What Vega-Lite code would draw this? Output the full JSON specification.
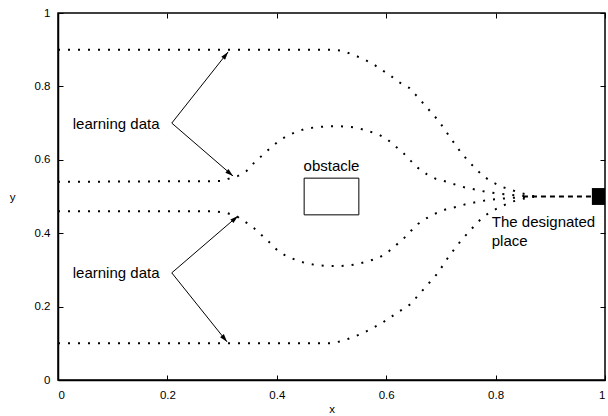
{
  "$schema": "https://vega.github.io/schema/vega-lite/v6.json",
  "width": 547,
  "height": 367,
  "autosize": "none",
  "padding": {"left": 58, "top": 13, "right": 3, "bottom": 36},
  "background": "white",
  "config": {
    "font": "Liberation Sans",
    "view": {"stroke": "black", "strokeWidth": 1.5},
    "axis": {
      "grid": false,
      "domainColor": "black",
      "domainWidth": 1.5,
      "tickColor": "black",
      "tickSize": -5,
      "tickWidth": 1,
      "labelColor": "black",
      "labelFont": "Liberation Sans",
      "labelFontSize": 11.5,
      "titleFont": "Liberation Sans",
      "titleFontSize": 11.5,
      "titleFontWeight": "normal",
      "titleColor": "black"
    }
  },
  "datasets": {
    "curves": [
      {"curve": "top", "x": 0, "y": 0.9}, {"curve": "top", "x": 0.5, "y": 0.9}, {"curve": "top", "x": 0.52, "y": 0.897}, {"curve": "top", "x": 0.54, "y": 0.886}, {"curve": "top", "x": 0.558, "y": 0.875}, {"curve": "top", "x": 0.576, "y": 0.861}, {"curve": "top", "x": 0.592, "y": 0.845}, {"curve": "top", "x": 0.609, "y": 0.828}, {"curve": "top", "x": 0.623, "y": 0.812}, {"curve": "top", "x": 0.642, "y": 0.796}, {"curve": "top", "x": 0.654, "y": 0.777}, {"curve": "top", "x": 0.667, "y": 0.755}, {"curve": "top", "x": 0.68, "y": 0.733}, {"curve": "top", "x": 0.693, "y": 0.711}, {"curve": "top", "x": 0.704, "y": 0.689}, {"curve": "top", "x": 0.715, "y": 0.665}, {"curve": "top", "x": 0.737, "y": 0.619}, {"curve": "top", "x": 0.75, "y": 0.597}, {"curve": "top", "x": 0.762, "y": 0.578}, {"curve": "top", "x": 0.777, "y": 0.556}, {"curve": "top", "x": 0.793, "y": 0.54}, {"curve": "top", "x": 0.812, "y": 0.526}, {"curve": "top", "x": 0.828, "y": 0.518}, {"curve": "top", "x": 0.845, "y": 0.51}, {"curve": "top", "x": 0.87, "y": 0.5},
      {"curve": "upper", "x": 0, "y": 0.54}, {"curve": "upper", "x": 0.3, "y": 0.542}, {"curve": "upper", "x": 0.311, "y": 0.548}, {"curve": "upper", "x": 0.329, "y": 0.556}, {"curve": "upper", "x": 0.345, "y": 0.57}, {"curve": "upper", "x": 0.358, "y": 0.591}, {"curve": "upper", "x": 0.372, "y": 0.61}, {"curve": "upper", "x": 0.388, "y": 0.632}, {"curve": "upper", "x": 0.402, "y": 0.649}, {"curve": "upper", "x": 0.418, "y": 0.665}, {"curve": "upper", "x": 0.437, "y": 0.677}, {"curve": "upper", "x": 0.453, "y": 0.685}, {"curve": "upper", "x": 0.473, "y": 0.689}, {"curve": "upper", "x": 0.491, "y": 0.691}, {"curve": "upper", "x": 0.51, "y": 0.692}, {"curve": "upper", "x": 0.53, "y": 0.69}, {"curve": "upper", "x": 0.548, "y": 0.687}, {"curve": "upper", "x": 0.567, "y": 0.678}, {"curve": "upper", "x": 0.585, "y": 0.67}, {"curve": "upper", "x": 0.601, "y": 0.657}, {"curve": "upper", "x": 0.616, "y": 0.638}, {"curve": "upper", "x": 0.631, "y": 0.619}, {"curve": "upper", "x": 0.645, "y": 0.597}, {"curve": "upper", "x": 0.658, "y": 0.578}, {"curve": "upper", "x": 0.674, "y": 0.561}, {"curve": "upper", "x": 0.691, "y": 0.548}, {"curve": "upper", "x": 0.711, "y": 0.54}, {"curve": "upper", "x": 0.729, "y": 0.531}, {"curve": "upper", "x": 0.748, "y": 0.523}, {"curve": "upper", "x": 0.766, "y": 0.518}, {"curve": "upper", "x": 0.784, "y": 0.512}, {"curve": "upper", "x": 0.81, "y": 0.507}, {"curve": "upper", "x": 0.845, "y": 0.502}, {"curve": "upper", "x": 0.87, "y": 0.5},
      {"curve": "lower", "x": 0, "y": 0.46}, {"curve": "lower", "x": 0.285, "y": 0.46}, {"curve": "lower", "x": 0.309, "y": 0.455}, {"curve": "lower", "x": 0.329, "y": 0.444}, {"curve": "lower", "x": 0.345, "y": 0.428}, {"curve": "lower", "x": 0.358, "y": 0.414}, {"curve": "lower", "x": 0.372, "y": 0.395}, {"curve": "lower", "x": 0.388, "y": 0.373}, {"curve": "lower", "x": 0.402, "y": 0.352}, {"curve": "lower", "x": 0.418, "y": 0.337}, {"curve": "lower", "x": 0.437, "y": 0.326}, {"curve": "lower", "x": 0.453, "y": 0.318}, {"curve": "lower", "x": 0.473, "y": 0.313}, {"curve": "lower", "x": 0.491, "y": 0.311}, {"curve": "lower", "x": 0.51, "y": 0.31}, {"curve": "lower", "x": 0.53, "y": 0.312}, {"curve": "lower", "x": 0.548, "y": 0.316}, {"curve": "lower", "x": 0.567, "y": 0.324}, {"curve": "lower", "x": 0.585, "y": 0.332}, {"curve": "lower", "x": 0.601, "y": 0.346}, {"curve": "lower", "x": 0.616, "y": 0.365}, {"curve": "lower", "x": 0.631, "y": 0.384}, {"curve": "lower", "x": 0.645, "y": 0.406}, {"curve": "lower", "x": 0.658, "y": 0.425}, {"curve": "lower", "x": 0.674, "y": 0.441}, {"curve": "lower", "x": 0.692, "y": 0.455}, {"curve": "lower", "x": 0.711, "y": 0.466}, {"curve": "lower", "x": 0.729, "y": 0.472}, {"curve": "lower", "x": 0.748, "y": 0.48}, {"curve": "lower", "x": 0.766, "y": 0.485}, {"curve": "lower", "x": 0.784, "y": 0.49}, {"curve": "lower", "x": 0.81, "y": 0.494}, {"curve": "lower", "x": 0.845, "y": 0.498}, {"curve": "lower", "x": 0.87, "y": 0.5},
      {"curve": "bottom", "x": 0, "y": 0.1}, {"curve": "bottom", "x": 0.5, "y": 0.1}, {"curve": "bottom", "x": 0.521, "y": 0.107}, {"curve": "bottom", "x": 0.54, "y": 0.117}, {"curve": "bottom", "x": 0.558, "y": 0.128}, {"curve": "bottom", "x": 0.576, "y": 0.142}, {"curve": "bottom", "x": 0.592, "y": 0.155}, {"curve": "bottom", "x": 0.609, "y": 0.172}, {"curve": "bottom", "x": 0.625, "y": 0.188}, {"curve": "bottom", "x": 0.642, "y": 0.204}, {"curve": "bottom", "x": 0.654, "y": 0.223}, {"curve": "bottom", "x": 0.667, "y": 0.245}, {"curve": "bottom", "x": 0.68, "y": 0.267}, {"curve": "bottom", "x": 0.693, "y": 0.289}, {"curve": "bottom", "x": 0.704, "y": 0.313}, {"curve": "bottom", "x": 0.715, "y": 0.338}, {"curve": "bottom", "x": 0.739, "y": 0.384}, {"curve": "bottom", "x": 0.751, "y": 0.403}, {"curve": "bottom", "x": 0.764, "y": 0.425}, {"curve": "bottom", "x": 0.777, "y": 0.444}, {"curve": "bottom", "x": 0.793, "y": 0.46}, {"curve": "bottom", "x": 0.812, "y": 0.474}, {"curve": "bottom", "x": 0.828, "y": 0.485}, {"curve": "bottom", "x": 0.845, "y": 0.492}, {"curve": "bottom", "x": 0.87, "y": 0.5}
    ],
    "target_path": [
      {"x": 0.85, "y": 0.5},
      {"x": 0.976, "y": 0.5}
    ],
    "target": [
      {"x": 0.976, "x2": 1.0, "y": 0.477, "y2": 0.523}
    ],
    "obstacle": [
      {"x": 0.45, "x2": 0.55, "y": 0.45, "y2": 0.55}
    ],
    "arrows": [
      {"x": 0.208, "y": 0.7, "x2": 0.311, "y2": 0.894},
      {"x": 0.208, "y": 0.7, "x2": 0.32, "y2": 0.556},
      {"x": 0.208, "y": 0.292, "x2": 0.329, "y2": 0.447},
      {"x": 0.208, "y": 0.292, "x2": 0.309, "y2": 0.104}
    ],
    "labels": [
      {"x": 0.027, "y": 0.698, "text": "learning data", "align": "left"},
      {"x": 0.027, "y": 0.292, "text": "learning data", "align": "left"},
      {"x": 0.5, "y": 0.583, "text": "obstacle", "align": "center"},
      {"x": 0.793, "y": 0.43, "text": "The designated", "align": "left"},
      {"x": 0.793, "y": 0.379, "text": "place", "align": "left"}
    ]
  },
  "resolve": {"axis": {"x": "independent", "y": "independent"}},
  "layer": [
    {
      "data": {"name": "curves"},
      "mark": {"type": "line", "color": "black", "strokeWidth": 2, "strokeDash": [2, 8], "strokeCap": "butt"},
      "encoding": {
        "x": {"field": "x", "type": "quantitative", "scale": {"domain": [0, 1], "nice": false, "zero": false},
          "axis": {"orient": "bottom", "values": [0, 0.2, 0.4, 0.6, 0.8, 1], "format": "~g", "title": "x", "labelPadding": 14, "titleY": 32, "titleBaseline": "alphabetic"}},
        "y": {"field": "y", "type": "quantitative", "scale": {"domain": [0, 1], "nice": false, "zero": false},
          "axis": {"orient": "left", "values": [0, 0.2, 0.4, 0.6, 0.8, 1], "format": "~g", "title": "y", "labelPadding": 13, "titleAngle": 0, "titleAlign": "center", "titleBaseline": "middle", "titleX": -46, "titleY": 184}},
        "detail": {"field": "curve", "type": "nominal"}
      }
    },
    {
      "data": {"name": "obstacle"},
      "mark": {"type": "rect", "fill": "white", "stroke": "black", "strokeWidth": 1},
      "encoding": {
        "x": {"field": "x", "type": "quantitative", "axis": {"orient": "top", "values": [0, 0.2, 0.4, 0.6, 0.8, 1], "labels": false, "title": null, "domain": false}},
        "x2": {"field": "x2"},
        "y": {"field": "y", "type": "quantitative", "axis": {"orient": "right", "values": [0, 0.2, 0.4, 0.6, 0.8, 1], "labels": false, "title": null, "domain": false}},
        "y2": {"field": "y2"}
      }
    },
    {
      "data": {"name": "target_path"},
      "mark": {"type": "line", "color": "black", "strokeWidth": 2, "strokeDash": [5, 4]},
      "encoding": {
        "x": {"field": "x", "type": "quantitative", "axis": null},
        "y": {"field": "y", "type": "quantitative", "axis": null}
      }
    },
    {
      "data": {"name": "target"},
      "mark": {"type": "rect", "fill": "black"},
      "encoding": {
        "x": {"field": "x", "type": "quantitative", "axis": null},
        "x2": {"field": "x2"},
        "y": {"field": "y", "type": "quantitative", "axis": null},
        "y2": {"field": "y2"}
      }
    },
    {
      "data": {"name": "arrows"},
      "mark": {"type": "rule", "color": "black", "strokeWidth": 1},
      "encoding": {
        "x": {"field": "x", "type": "quantitative", "axis": null},
        "y": {"field": "y", "type": "quantitative", "axis": null},
        "x2": {"field": "x2"},
        "y2": {"field": "y2"}
      }
    },
    {
      "data": {"values": [{"x": 0.311, "y": 0.894}]},
      "mark": {"type": "point", "shape": "M0,0L0.6,2L-0.6,2Z", "size": 64, "filled": true, "color": "black", "opacity": 1, "angle": 38},
      "encoding": {
        "x": {"field": "x", "type": "quantitative", "axis": null},
        "y": {"field": "y", "type": "quantitative", "axis": null}
      }
    },
    {
      "data": {"values": [{"x": 0.32, "y": 0.556}]},
      "mark": {"type": "point", "shape": "M0,0L0.6,2L-0.6,2Z", "size": 64, "filled": true, "color": "black", "opacity": 1, "angle": 130},
      "encoding": {
        "x": {"field": "x", "type": "quantitative", "axis": null},
        "y": {"field": "y", "type": "quantitative", "axis": null}
      }
    },
    {
      "data": {"values": [{"x": 0.329, "y": 0.447}]},
      "mark": {"type": "point", "shape": "M0,0L0.6,2L-0.6,2Z", "size": 64, "filled": true, "color": "black", "opacity": 1, "angle": 49},
      "encoding": {
        "x": {"field": "x", "type": "quantitative", "axis": null},
        "y": {"field": "y", "type": "quantitative", "axis": null}
      }
    },
    {
      "data": {"values": [{"x": 0.309, "y": 0.104}]},
      "mark": {"type": "point", "shape": "M0,0L0.6,2L-0.6,2Z", "size": 64, "filled": true, "color": "black", "opacity": 1, "angle": 141},
      "encoding": {
        "x": {"field": "x", "type": "quantitative", "axis": null},
        "y": {"field": "y", "type": "quantitative", "axis": null}
      }
    },
    {
      "data": {"name": "labels"},
      "transform": [{"filter": "datum.align == 'left'"}],
      "mark": {"type": "text", "align": "left", "baseline": "middle", "font": "Liberation Sans", "fontSize": 15, "color": "black"},
      "encoding": {
        "x": {"field": "x", "type": "quantitative", "axis": null},
        "y": {"field": "y", "type": "quantitative", "axis": null},
        "text": {"field": "text"}
      }
    },
    {
      "data": {"name": "labels"},
      "transform": [{"filter": "datum.align == 'center'"}],
      "mark": {"type": "text", "align": "center", "baseline": "middle", "font": "Liberation Sans", "fontSize": 15, "color": "black"},
      "encoding": {
        "x": {"field": "x", "type": "quantitative", "axis": null},
        "y": {"field": "y", "type": "quantitative", "axis": null},
        "text": {"field": "text"}
      }
    }
  ]
}
